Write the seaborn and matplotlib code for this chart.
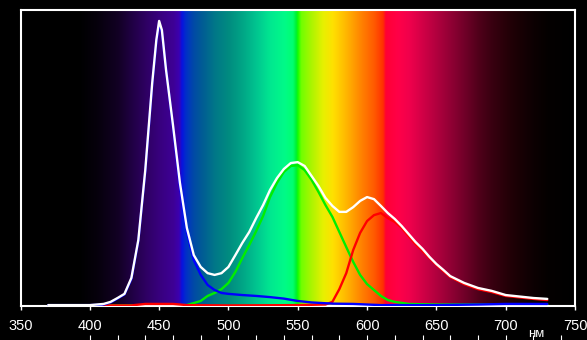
import numpy as np
import pandas as pd
import matplotlib
matplotlib.use("Agg")
import matplotlib.pyplot as plt
from matplotlib.colors import LinearSegmentedColormap, to_rgb
import seaborn as sns

# ---- data (relative intensity, % of axis height) ----
white_wl = [370, 380, 390, 400, 405, 410, 415, 420, 425, 430, 435, 440, 445, 448, 450, 452, 455,
            460, 465, 470, 475, 480, 485, 490, 495, 500, 505, 510, 515, 520, 525, 530, 535, 540,
            545, 550, 555, 560, 565, 570, 575, 580, 585, 590, 595, 600, 605, 610, 615, 620, 625,
            630, 635, 640, 645, 650, 655, 660, 670, 680, 690, 700, 710, 720, 730]
white_val = [0.3, 0.3, 0.3, 0.3, 0.5, 0.7, 1.4, 2.7, 4.1, 9.5, 22.3, 45.9, 75.3, 89.9, 96.3, 93.2, 79.7,
             61.1, 41.6, 26.4, 17.2, 13.2, 11.1, 10.5, 11.1, 13.2, 17.2, 21.3, 25.0, 29.7, 34.1, 39.2, 43.2, 46.3,
             48.3, 48.6, 47.3, 43.9, 40.5, 36.5, 33.8, 31.8, 31.8, 33.4, 35.5, 36.8, 36.1, 33.8, 31.4, 29.4, 27.0,
             24.3, 21.6, 19.3, 16.6, 14.2, 12.2, 10.1, 7.8, 6.1, 5.1, 3.7, 3.2, 2.7, 2.4]

green_wl = [400, 450, 470, 475, 480, 485, 490, 495, 500, 505, 510, 515, 520, 525, 530, 535, 540, 545,
            550, 555, 560, 565, 570, 575, 580, 585, 590, 595, 600, 605, 610, 615, 620, 630, 650, 700, 730]
green_val = [0.2, 0.3, 0.3, 1.0, 1.7, 3.4, 4.4, 5.7, 7.8, 11.5, 16.2, 20.6, 25.3, 30.4, 36.8, 41.6, 45.3, 47.3,
             47.6, 45.9, 42.6, 38.5, 34.1, 30.1, 25.0, 19.9, 14.9, 10.5, 7.4, 5.4, 3.4, 2.0, 1.4, 0.7, 0.5, 0.5, 0.5]

blue_wl = [370, 380, 390, 400, 410, 415, 420, 425, 430, 435, 440, 445, 448, 450, 452, 455, 460, 465, 470,
           475, 480, 485, 490, 495, 500, 510, 520, 530, 540, 550, 560, 575, 590, 610, 650, 680, 700, 730]
blue_val = [0.3, 0.3, 0.3, 0.3, 0.5, 1.2, 2.5, 3.9, 9.1, 22.0, 45.3, 74.7, 89.2, 95.6, 92.6, 80.1, 60.5, 40.5, 25.0,
            15.5, 10.5, 7.1, 5.4, 4.4, 4.1, 3.7, 3.4, 3.0, 2.5, 1.7, 1.2, 0.8, 0.7, 0.3, 0.3, 0.5, 0.7, 0.7]

red_wl = [410, 430, 440, 460, 470, 500, 550, 570, 575, 580, 585, 590, 595, 600, 605, 610, 615, 620, 625,
          630, 635, 640, 645, 650, 655, 660, 670, 680, 690, 700, 710, 720, 730]
red_val = [0.2, 0.2, 0.7, 0.7, 0.3, 0.2, 0.3, 0.5, 1.4, 5.7, 11.1, 18.9, 24.7, 28.7, 30.7, 31.4, 29.7, 28.4, 26.4,
           23.6, 20.9, 18.6, 16.2, 13.9, 11.8, 9.8, 7.4, 5.7, 4.7, 3.4, 2.9, 2.4, 2.0]

major_ticks = [350, 400, 450, 500, 550, 600, 650, 700, 750]
minor_ticks = list(range(400, 741, 20))
unit_label = "нм"

# spectrum background colour stops (wavelength, colour)
spec_stops = [(350, "#000000"), (392, "#000000"), (405, "#06000c"), (420, "#120024"), (430, "#200044"),
              (440, "#2e0062"), (450, "#38007e"), (460, "#3e0096"), (464, "#3c00b0"), (466, "#0812e0"),
              (469, "#0030c8"), (474, "#0048a8"), (480, "#005a96"), (490, "#007888"), (500, "#008c80"),
              (510, "#00a686"), (520, "#00c690"), (530, "#00e890"), (540, "#00fa88"), (546, "#00ff70"),
              (548.5, "#00f030"), (549.5, "#10ff00"), (552, "#70ff00"), (560, "#b0f400"), (568, "#e8f000"),
              (575, "#ffe000"), (585, "#ffb400"), (595, "#ff8400"), (605, "#ff5800"), (611, "#ff3000"),
              (613, "#ff0034"), (622, "#ff0048"), (630, "#f0004c"), (640, "#d00046"), (650, "#b0003e"),
              (660, "#900034"), (670, "#700028"), (680, "#50001a"), (690, "#380010"), (700, "#260008"),
              (710, "#180004"), (720, "#0c0002"), (730, "#040000"), (750, "#000000")]

# ---- figure ----
sns.set_style("dark", {"axes.facecolor": "black", "figure.facecolor": "black"})
plt.rcParams["font.family"] = ["Liberation Sans", "DejaVu Sans"]

fig = plt.figure(figsize=(5.87, 3.40), dpi=100, facecolor="black")
ax = fig.add_axes([20.5 / 587, 34 / 340, (575 - 20.5) / 587, 296 / 340])
ax.set_facecolor("black")

xmin, xmax = 350, 750
pos = [(w - xmin) / (xmax - xmin) for w, _ in spec_stops]
cmap = LinearSegmentedColormap.from_list("spec", list(zip(pos, [to_rgb(c) for _, c in spec_stops])), N=2048)
grad = np.linspace(0, 1, 2048)[None, :]
ax.imshow(grad, cmap=cmap, aspect="auto", extent=[xmin, xmax, 0, 100], zorder=0, interpolation="bilinear")

series = [("green", green_wl, green_val, "#00ee00"),
          ("red", red_wl, red_val, "#ff0000"),
          ("blue", blue_wl, blue_val, "#0000ff"),
          ("white", white_wl, white_val, "#ffffff")]
for i, (name, wl, val, col) in enumerate(series):
    df = pd.DataFrame({"wl": wl, "v": val})
    sns.lineplot(data=df, x="wl", y="v", ax=ax, color=col, lw=1.7, zorder=2 + i)

ax.set_xlim(xmin, xmax)
ax.set_ylim(0, 100)
ax.set_xlabel("")
ax.set_ylabel("")
ax.set_xticks(major_ticks)
ax.set_xticklabels([str(t) for t in major_ticks])
ax.set_yticks([])
ax.tick_params(axis="x", colors="white", labelcolor="white", direction="out", length=3,
               width=1, pad=6, labelsize=10.5, bottom=True)
ax.grid(False)
for s in ax.spines.values():
    s.set_visible(True)
    s.set_color("white")
    s.set_linewidth(1.5)

sec = ax.secondary_xaxis(-0.115)
sec.set_xticks(minor_ticks)
sec.set_xticklabels([])
sec.tick_params(axis="x", colors="white", direction="in", length=3.5, width=0.8)
sec.spines["bottom"].set_visible(False)

fig.text(536 / 587, 1 - 334 / 340, unit_label, color="white", fontsize=9.5, ha="center", va="center")

fig.savefig("out.png", dpi=100, facecolor="black")
